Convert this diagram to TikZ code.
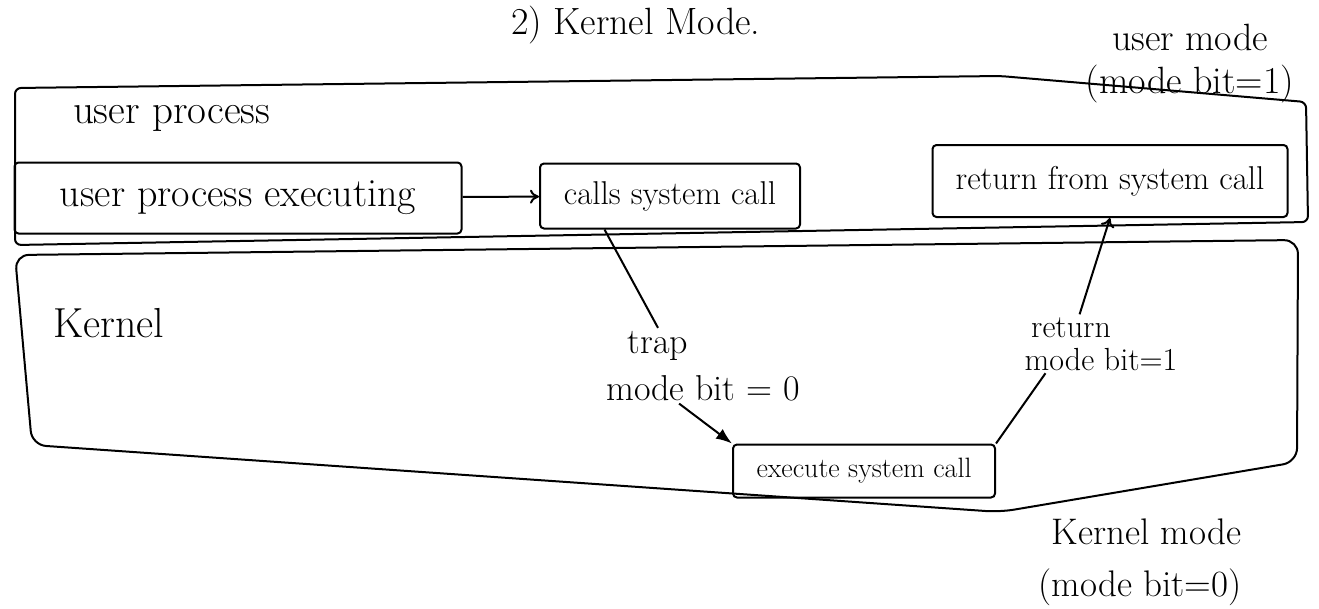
\documentclass[tikz,border=0pt]{standalone}
\usetikzlibrary{positioning, arrows.meta, calc}

\begin{document}
\begin{tikzpicture}[x=1pt, y=-1pt, line width=2pt, font=\fontsize{38}{44}\selectfont,
        stepbox/.style={draw, rectangle, rounded corners=4pt, inner sep=0pt},
        note/.style={inner sep=2pt},
        flow/.style={-{To[length=9pt, width=14pt]}},
        trapflow/.style={-{Latex[length=16pt, width=12pt]}}]
    \useasboundingbox (0,0) rectangle (1319,608);

    \node[note, anchor=base west] (title) at (508,34) {2) Kernel Mode.};
    \node[note, align=center, font=\fontsize{38}{43}\selectfont] (umode) at (1190,64) {user mode\\(mode bit=1)};
    \node[note, align=right, font=\fontsize{37}{52}\selectfont] (kmode) at (1140,562) {Kernel mode\\(mode bit=0)};

    \draw[rounded corners=6pt] (15,88) -- (1000,76) -- (1306,102) -- (1308,222) -- (15,245) -- cycle;
    \draw[rounded corners=14pt] (15,255) -- (1298,240) -- (1297,462) -- (1000,512) -- (32,445) -- cycle;

    \node[note, anchor=base west, font=\fontsize{41}{48}\selectfont] (uproc) at (70,123) {user process};
    \node[note, anchor=base west, font=\fontsize{42}{48}\selectfont] (kern) at (50,337) {Kernel};

    \node[stepbox, minimum width=447pt, minimum height=71pt, font=\fontsize{40}{48}\selectfont] (exec) at (238,198) {user process executing};
    \node[stepbox, minimum width=260pt, minimum height=65pt, font=\fontsize{33}{40}\selectfont] (call) at (670,196) {calls system call};
    \node[stepbox, minimum width=355pt, minimum height=72pt, font=\fontsize{33}{40}\selectfont] (ret) at (1110,181) {return from system call};
    \node[stepbox, minimum width=262pt, minimum height=53pt, font=\fontsize{28}{34}\selectfont] (sys) at (864,471) {execute system call};

    \node[note, anchor=base, font=\fontsize{36}{40}\selectfont] (trapword) at (658,353) {trap};
    \node[note, anchor=base, font=\fontsize{36}{40}\selectfont] (trapbit) at (703,400) {mode bit = 0};
    \node[note, anchor=base, font=\fontsize{32}{38}\selectfont] (retword) at (1071,337) {return};
    \node[note, anchor=base, font=\fontsize{32}{38}\selectfont] (retbit) at (1101,370) {mode bit=1};

    \draw[flow] (exec) -- (call);
    \draw ($(call.south west)!0.25!(call.south east)$) -- (trapword.north);
    \draw[trapflow] ($(trapbit.south west)!0.38!(trapbit.south east)$) -- (sys.north west);
    \draw (sys.north east) -- ($(retbit.south west)!0.15!(retbit.south east)$);
    \draw[flow] ($(retword.north west)!0.6!(retword.north east)$) -- (ret.south);
\end{tikzpicture}
\end{document}
